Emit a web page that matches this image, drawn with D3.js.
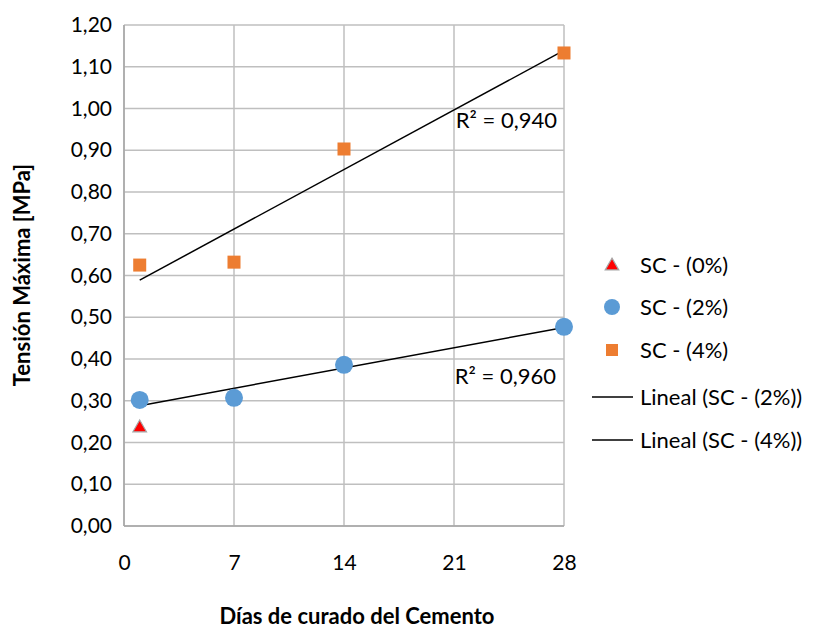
<!DOCTYPE html>
<html><head><meta charset="utf-8">
<script src="https://cdn.jsdelivr.net/npm/d3@7"></script>
<style>body{margin:0;background:#fff}</style>
</head><body>
<svg id="chart" width="817" height="628"></svg>
<script>
const days = [1, 7, 14, 28];
const sc0 = [{x: 1, y: 0.235}];
const sc2 = [0.302, 0.307, 0.386, 0.477];
const sc4 = [0.625, 0.632, 0.903, 1.133];
const xTicks = [0, 7, 14, 21, 28];
const yTicks = [0, 0.1, 0.2, 0.3, 0.4, 0.5, 0.6, 0.7, 0.8, 0.9, 1.0, 1.1, 1.2];
const r2Labels = ["R² = 0,960", "R² = 0,940"];
const legendLabels = ["SC - (0%)", "SC - (2%)", "SC - (4%)", "Lineal (SC - (2%))", "Lineal (SC - (4%))"];

const font = "Lato, 'Open Sans', sans-serif";
const svg = d3.select("#chart");
const m = {l: 124, t: 25, r: 564, b: 526};
const x = d3.scaleLinear().domain([0, 28]).range([m.l, m.r]);
const y = d3.scaleLinear().domain([0, 1.2]).range([m.b, m.t]);
const fmt = v => v.toFixed(2).replace(".", ",");

// grid
svg.append("g").selectAll("line").data(yTicks).join("line")
  .attr("x1", m.l).attr("x2", m.r).attr("y1", d => y(d)).attr("y2", d => y(d))
  .attr("stroke", "#bfbfbf").attr("stroke-width", 1.5);
svg.append("g").selectAll("line").data(xTicks).join("line")
  .attr("y1", m.t).attr("y2", m.b).attr("x1", d => x(d)).attr("x2", d => x(d))
  .attr("stroke", "#bfbfbf").attr("stroke-width", 1.5);
svg.append("line").attr("x1", m.l).attr("x2", m.l).attr("y1", m.t).attr("y2", m.b).attr("stroke", "#a6a6a6").attr("stroke-width", 1.5);
svg.append("line").attr("x1", m.l).attr("x2", m.r).attr("y1", m.b).attr("y2", m.b).attr("stroke", "#a6a6a6").attr("stroke-width", 1.5);

const ya = svg.append("g").attr("transform", `translate(${m.l},0)`)
  .call(d3.axisLeft(y).tickValues(yTicks).tickFormat(fmt).tickSize(0).tickPadding(12));
ya.select(".domain").remove();
ya.selectAll("text").attr("font-family", font).attr("font-size", 21).attr("fill", "#000");
const xa = svg.append("g").attr("transform", `translate(0,${m.b})`)
  .call(d3.axisBottom(x).tickValues(xTicks).tickFormat(d3.format("d")).tickSize(0).tickPadding(29));
xa.select(".domain").remove();
xa.selectAll("text").attr("font-family", font).attr("font-size", 21).attr("fill", "#000");

svg.append("text").attr("x", 357).attr("y", 624).attr("text-anchor", "middle")
  .attr("font-family", font).attr("font-size", 22).attr("font-weight", "bold").text("Días de curado del Cemento");
svg.append("text").attr("transform", "translate(30,275) rotate(-90)").attr("text-anchor", "middle")
  .attr("font-family", font).attr("font-size", 22).attr("font-weight", "bold").text("Tensión Máxima [MPa]");

function linreg(xs, ys) {
  const mx = d3.mean(xs), my = d3.mean(ys);
  let sxy = 0, sxx = 0;
  xs.forEach((v, i) => { sxy += (v - mx) * (ys[i] - my); sxx += (v - mx) ** 2; });
  const b = sxy / sxx; return {a: my - b * mx, b};
}
[sc2, sc4].forEach(s => {
  const r = linreg(days, s);
  svg.append("line").attr("x1", x(1)).attr("x2", x(28))
    .attr("y1", y(r.a + r.b * 1)).attr("y2", y(r.a + r.b * 28))
    .attr("stroke", "#000").attr("stroke-width", 1.5);
});

const tri = d3.symbol().type(d3.symbolTriangle).size(80);
svg.append("g").selectAll("path").data(sc0).join("path")
  .attr("d", tri).attr("transform", d => `translate(${x(d.x)},${y(d.y)})`)
  .attr("fill", "#ff0000").attr("stroke", "#a6a6a6").attr("stroke-width", 1.2);
svg.append("g").selectAll("circle").data(sc2).join("circle")
  .attr("cx", (d, i) => x(days[i])).attr("cy", d => y(d)).attr("r", 9).attr("fill", "#5b9bd5");
svg.append("g").selectAll("rect").data(sc4).join("rect")
  .attr("x", (d, i) => x(days[i]) - 6.5).attr("y", d => y(d) - 6.5).attr("width", 13).attr("height", 13).attr("fill", "#ed7d31");

svg.append("text").attr("x", 556).attr("y", 384).attr("text-anchor", "end")
  .attr("font-family", font).attr("font-size", 22).text(r2Labels[0]);
svg.append("text").attr("x", 557).attr("y", 128).attr("text-anchor", "end")
  .attr("font-family", font).attr("font-size", 22).text(r2Labels[1]);

const ly = [265, 307, 350, 397, 440];
const lg = svg.append("g");
lg.append("path").attr("d", tri).attr("transform", `translate(612,${ly[0]+1})`)
  .attr("fill", "#ff0000").attr("stroke", "#a6a6a6").attr("stroke-width", 1.2);
lg.append("circle").attr("cx", 612).attr("cy", ly[1]).attr("r", 8).attr("fill", "#5b9bd5");
lg.append("rect").attr("x", 606).attr("y", ly[2] - 6).attr("width", 12).attr("height", 12).attr("fill", "#ed7d31");
[3, 4].forEach(i => lg.append("line").attr("x1", 592).attr("x2", 633).attr("y1", ly[i]).attr("y2", ly[i]).attr("stroke", "#000").attr("stroke-width", 1.5));
lg.selectAll("text").data(legendLabels).join("text")
  .attr("x", 640).attr("y", (d, i) => ly[i] + 8)
  .attr("font-family", font).attr("font-size", 22).text(d => d);
</script>
</body></html>
